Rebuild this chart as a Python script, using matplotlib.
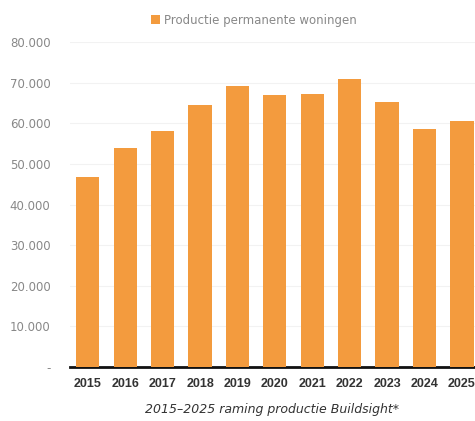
import matplotlib.pyplot as plt
from matplotlib.ticker import FuncFormatter

years = ['2015', '2016', '2017', '2018', '2019', '2020', '2021', '2022', '2023', '2024', '2025']
productie = [46800, 53900, 58100, 64500, 69200, 67000, 67200, 70900, 65300, 58700, 60600]
y_ticks = [0, 10000, 20000, 30000, 40000, 50000, 60000, 70000, 80000]

oranje = '#F39B3E'

fig = plt.figure(figsize=(4.75, 4.21), dpi=100)
ax = fig.add_axes([0.147, 0.128, 0.853, 0.772])

x = range(len(years))
ax.bar(x, productie, width=0.62, color=oranje, label='Productie permanente woningen', zorder=3)

ax.set_xlim(-0.48, 10.35)
ax.set_ylim(0, 80000)
ax.set_yticks(y_ticks)


def fmt(v, pos):
    if v == 0:
        return '-'
    return f'{int(v):,}'.replace(',', '.')


ax.yaxis.set_major_formatter(FuncFormatter(fmt))
ax.set_xticks(list(x))
ax.set_xticklabels(years, fontsize=9, fontweight='bold', color='#333333',
                   family='Liberation Sans')
ax.tick_params(axis='y', labelsize=8.5, colors='#888888', length=0, pad=14)
ax.tick_params(axis='x', length=0, pad=7.5)

ax.grid(axis='y', color='#f2f2f2', linewidth=0.8, zorder=0)
for side in ['top', 'right', 'left']:
    ax.spines[side].set_visible(False)
ax.spines['bottom'].set_linewidth(2)
ax.spines['bottom'].set_color('#111111')

ax.set_xlabel('2015\u20132025 raming productie Buildsight*', fontsize=9, style='italic',
              color='#333333', labelpad=10)

fig.legend(loc='upper center', bbox_to_anchor=(0.535, 0.993), frameon=False, fontsize=8.5,
           handlelength=0.7, handleheight=0.7, handletextpad=0.4, labelcolor='#888888')

fig.savefig('out.png', dpi=100)
